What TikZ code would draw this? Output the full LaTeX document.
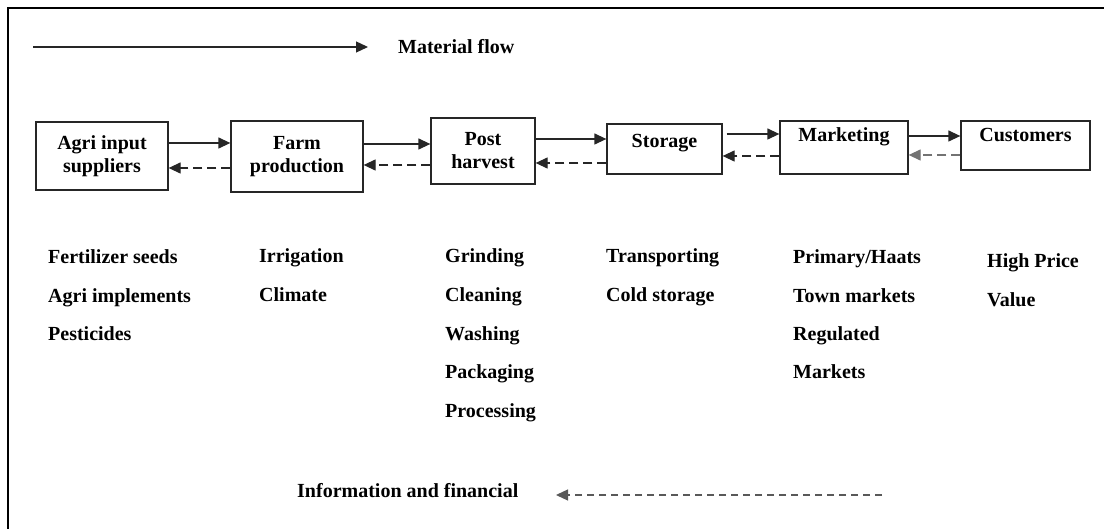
\documentclass[tikz,border=0pt]{standalone}
\usepackage{fontspec}
\setmainfont{Liberation Serif}
\usetikzlibrary{arrows.meta}
\begin{document}
\begin{tikzpicture}[x=1pt,y=-1pt,
  every node/.style={font=\bfseries\fontsize{20}{23}\selectfont},
  box/.style={draw=black!85,line width=1.3pt,inner sep=0pt,align=center},
  flow/.style={line width=1.3pt,draw=black!85,-{Triangle[length=12pt,width=11pt]}},
  back/.style={line width=1.3pt,draw=black!85,dash pattern=on 9pt off 5pt,-{Triangle[length=12pt,width=11pt]}},
  itm/.style={anchor=base west,inner sep=0pt}]
\useasboundingbox (0,0) rectangle (1104,529);
\draw[line width=2.8pt] (8,529) -- (8,8) -- (1104,8);
% legend
\coordinate (m1) at (33,47);
\coordinate (m2) at (368,47);
\draw[flow] (m1) -- (m2);
\node[itm] (mf) at (398,54) {Material flow};
% boxes
\node[box,minimum width=132pt,minimum height=68pt] (A) at (102,156) {Agri input\\suppliers};
\node[box,minimum width=132pt,minimum height=71pt] (F) at (297,156.5) {Farm\\production};
\node[box,minimum width=104pt,minimum height=66pt] (P) at (483,151) {Post\\harvest};
\node[box,minimum width=115pt,minimum height=50pt,text height=14pt,text depth=16pt] (S) at (664.5,149) {Storage};
\node[box,minimum width=128pt,minimum height=53pt,text height=14pt,text depth=26pt] (M) at (844,147.5) {Marketing};
\node[box,minimum width=129pt,minimum height=49pt,text height=14pt,text depth=22pt] (C) at (1025.5,145.5) {Customers};
% forward flows
\draw[flow] (A.east |- 0,143) -- (F.west |- 0,143);
\draw[flow] (F.east |- 0,144) -- (P.west |- 0,144);
\draw[flow] (P.east |- 0,139) -- (S.west |- 0,139);
\draw[flow] ([xshift=4pt]S.east |- 0,134) -- (M.west |- 0,134);
\draw[flow] (M.east |- 0,136) -- (C.west |- 0,136);
% backward flows
\draw[back] (F.west |- 0,168) -- (A.east |- 0,168);
\draw[back] (P.west |- 0,165) -- (F.east |- 0,165);
\draw[back] (S.west |- 0,163) -- (P.east |- 0,163);
\draw[back] (M.west |- 0,156) -- (S.east |- 0,156);
\draw[back,draw=black!55] (C.west |- 0,155) -- (M.east |- 0,155);
% lists
\node[itm] (a1) at (48,264) {Fertilizer seeds};
\node[itm] (a2) at (48,302.5) {Agri implements};
\node[itm] (a3) at (48,341) {Pesticides};
\node[itm] (b1) at (259,263) {Irrigation};
\node[itm] (b2) at (259,302) {Climate};
\node[itm] (c1) at (445,263) {Grinding};
\node[itm] (c2) at (445,302) {Cleaning};
\node[itm] (c3) at (445,341) {Washing};
\node[itm] (c4) at (445,379) {Packaging};
\node[itm] (c5) at (445,418) {Processing};
\node[itm] (d1) at (606,263) {Transporting};
\node[itm] (d2) at (606,302) {Cold storage};
\node[itm] (e1) at (793,264) {Primary/Haats};
\node[itm] (e2) at (793,302.5) {Town markets};
\node[itm] (e3) at (793,341) {Regulated};
\node[itm] (e4) at (793,379) {Markets};
\node[itm] (f1) at (987,268) {High Price};
\node[itm] (f2) at (987,307) {Value};
% information flow
\node[itm] (inf) at (297,497) {Information and financial};
\coordinate (i1) at (882,495);
\coordinate (i2) at (556,495);
\draw[back,draw=black!65,dash pattern=on 7pt off 5pt] (i1) -- (i2);
\end{tikzpicture}
\end{document}
